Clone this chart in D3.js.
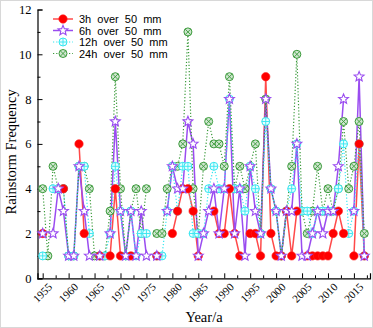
<!DOCTYPE html>
<html><head><meta charset="utf-8">
<script src="https://cdn.jsdelivr.net/npm/d3@7"></script>
<style>body{margin:0;background:#fff}svg{display:block}</style>
</head><body>
<svg id="c" width="373" height="328"></svg>
<script>
const years = d3.range(1955, 2018);
const _ = null;
// values by year 1955..2017
const s3h = [2,_,_,_,4,_,_,6,2,_, _,1,_,1,4,1,_,1,_,_, _,_,1,_,_,2,3,4,4,3, 1,_,_,3,2,2,4,2,1,_, 2,2,1,9,2,1,1,3,1,3, _,1,1,1,1,1,2,3,2,_, 1,6,1];
const s6h = [2,_,2,4,3,1,1,5,3,1, _,1,_,2,7,3,1,3,1,3, 1,_,1,_,3,5,4,4,7,6, 1,2,3,4,2,4,8,2,4,1, 5,3,2,8,4,3,1,3,3,6, 1,1,2,3,2,3,3,5,8,_, 3,9,1];
const s12h = [1,_,4,4,4,1,1,5,5,2, _,1,1,2,5,3,1,3,1,2, 2,_,1,1,3,5,3,5,5,2, 2,2,4,5,4,4,8,4,4,3, 5,4,2,7,4,3,1,3,4,6, 3,3,2,3,3,3,3,4,6,2, 3,6,1];
const s24h = [4,1,5,4,4,1,1,5,5,4, 1,1,1,3,9,4,1,3,4,2, 4,_,2,2,4,5,5,6,11,4, 2,5,7,6,6,5,9,4,5,4, 5,6,2,8,4,3,1,3,5,10, 3,2,3,5,3,4,3,4,7,4, 5,7,2];
const seriesNames = ["3h  over  50  mm","6h  over  50  mm","12h  over  50  mm","24h  over  50  mm"];
const yTicks = [0,2,4,6,8,10,12];
const xTickYears = [1955,1960,1965,1970,1975,1980,1985,1990,1995,2000,2005,2010,2015];

const svg = d3.select("#c");
svg.append("rect").attr("x",0.5).attr("y",0.5).attr("width",372).attr("height",327)
  .attr("fill","#fff").attr("stroke","#d8d8d8");

const x = d3.scaleLinear().domain([1954, 2018.1]).range([37.5, 370]);
const y = d3.scaleLinear().domain([0, 12]).range([278.3, 9.5]);

const serif = "'Liberation Serif','Times New Roman',serif";

// axes
const gx = svg.append("g").attr("transform",`translate(0,${y(0)})`);
gx.call(d3.axisBottom(x).tickValues(xTickYears).tickSize(-5).tickFormat(d3.format("d")).tickPadding(4));
gx.append("g").call(d3.axisBottom(x).tickValues(d3.range(1957.5,2018,5)).tickSize(-3).tickFormat(""));
gx.selectAll(".domain").attr("stroke","#000").attr("stroke-width",1.2);
gx.selectAll(".tick line").attr("stroke","#000");
gx.selectAll(".tick text").attr("font-family",serif).attr("font-size",11).attr("fill","#000")
  .attr("text-anchor","end").attr("transform","translate(5,3) rotate(-45)").attr("dy","0.35em").attr("dx","-0.1em");
gx.selectAll("path.domain").filter((d,i,n)=>i>0).remove();

const gy = svg.append("g").attr("transform",`translate(${x(1954)},0)`);
gy.call(d3.axisLeft(y).tickValues(yTicks).tickSize(-5).tickPadding(6).tickFormat(d3.format("d")));
gy.append("g").call(d3.axisLeft(y).tickValues([1,3,5,7,9,11]).tickSize(-3).tickFormat(""));
gy.selectAll(".domain").attr("stroke","#000").attr("stroke-width",1.2);
gy.selectAll(".tick line").attr("stroke","#000");
gy.selectAll(".tick text").attr("font-family",serif).attr("font-size",12.5).attr("fill","#000");
gy.selectAll("g g path.domain").remove();
gx.selectAll("g g path.domain").remove();

svg.append("text").attr("transform",`translate(16,${(y(0)+y(12))/2+8}) rotate(-90)`)
  .attr("text-anchor","middle").attr("font-family",serif).attr("font-size",14.5).text("Rainstorm Frequency");
svg.append("text").attr("x",204).attr("y",322).attr("text-anchor","middle")
  .attr("font-family",serif).attr("font-size",14.5).text("Year/a");

const mk = (arr)=>years.map((yr,i)=>({yr, v:arr[i]}));
const data = [mk(s3h), mk(s6h), mk(s12h), mk(s24h)];
const styles = [
  {line:"#ff4a4a", w:1.5, dash:null},
  {line:"#9a4cf0", w:1.5, dash:null},
  {line:"#33e6f0", w:1.2, dash:"1.2,2"},
  {line:"#3a9a3a", w:1.2, dash:"1.2,2"}
];
const line = d3.line().defined(d=>d.v!==null).x(d=>x(d.yr)).y(d=>y(d.v));

const starPath = (r, ri) => {
  let p = [];
  for (let k=0;k<10;k++){
    const a = -Math.PI/2 + k*Math.PI/5;
    const rr = k%2===0 ? r : ri;
    p.push([rr*Math.cos(a), rr*Math.sin(a)]);
  }
  return "M"+p.map(q=>q[0].toFixed(2)+","+q[1].toFixed(2)).join("L")+"Z";
};

function drawMarker(g, k){
  if (k===0){
    g.append("circle").attr("r",4.2).attr("fill","#ff0000").attr("stroke","#ff2020").attr("stroke-width",0.6);
  } else if (k===1){
    g.append("path").attr("d",starPath(5.2,2.3)).attr("fill","#fff").attr("stroke","#9a4cf0").attr("stroke-width",1.1);
  } else if (k===2){
    g.append("circle").attr("r",4).attr("fill","#e6fdff").attr("stroke","#33e6f0").attr("stroke-width",1);
    g.append("path").attr("d","M-4,0H4M0,-4V4").attr("stroke","#33e6f0").attr("stroke-width",0.9);
  } else {
    g.append("circle").attr("r",4).attr("fill","#cfe6cf").attr("stroke","#3a9a3a").attr("stroke-width",1);
    g.append("path").attr("d","M-2.8,-2.8L2.8,2.8M-2.8,2.8L2.8,-2.8").attr("stroke","#3a9a3a").attr("stroke-width",0.9);
  }
}

// lines
[0,1,2,3].forEach(k=>{
  svg.append("path").datum(data[k]).attr("d",line).attr("fill","none")
    .attr("stroke",styles[k].line).attr("stroke-width",styles[k].w)
    .attr("stroke-dasharray",styles[k].dash);
});
// markers: green, cyan, red, purple
[3,2,0,1].forEach(k=>{
  data[k].filter(d=>d.v!==null).forEach(d=>{
    const g = svg.append("g").attr("transform",`translate(${x(d.yr)},${y(d.v)})`);
    drawMarker(g,k);
  });
});

// legend
const lg = svg.append("g");
const rowsY = [19,30.5,42,53.5];
[0,1,2,3].forEach(k=>{
  lg.append("line").attr("x1",53).attr("x2",73).attr("y1",rowsY[k]).attr("y2",rowsY[k])
    .attr("stroke",styles[k].line).attr("stroke-width",styles[k].w).attr("stroke-dasharray",styles[k].dash);
  const g = lg.append("g").attr("transform",`translate(63,${rowsY[k]})`);
  drawMarker(g,k);
  lg.append("text").attr("x",79).attr("y",rowsY[k]+4).attr("font-family","'Liberation Sans',Arial,sans-serif")
    .attr("font-size",11).attr("xml:space","preserve").style("white-space","pre").text(seriesNames[k]);
});
</script>
</body></html>
